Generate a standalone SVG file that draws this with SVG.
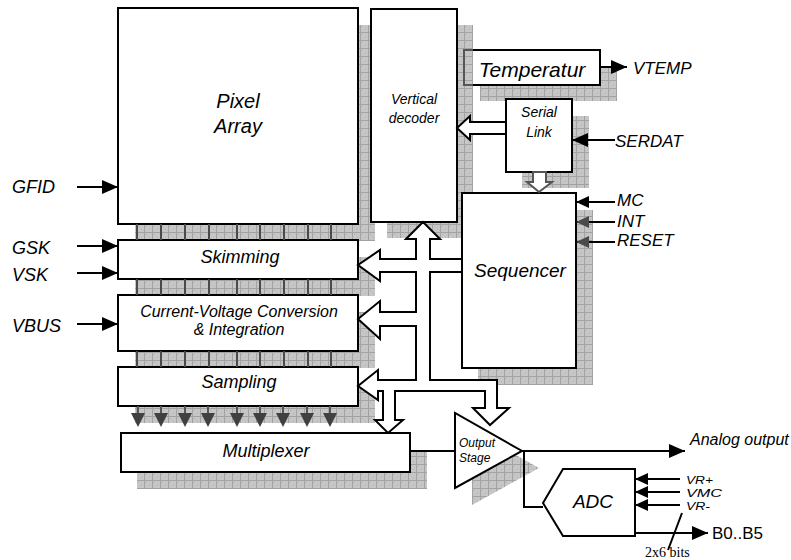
<svg xmlns="http://www.w3.org/2000/svg" width="791" height="560" viewBox="0 0 791 560">
<defs>
<pattern id="hatch" width="8" height="8" patternUnits="userSpaceOnUse">
<rect width="8" height="8" fill="#c6c6c6"/>
<rect x="2" y="2" width="1" height="1" fill="#b4b4b4"/>
<rect x="5" y="5" width="1" height="1" fill="#b4b4b4"/>
<path d="M0 0.5H8M0.5 0V8" stroke="#a2a2a2" stroke-width="1"/>
</pattern>
<marker id="ah" markerUnits="userSpaceOnUse" markerWidth="16" markerHeight="14" refX="16" refY="7" orient="auto">
<path d="M0,0 L16,7 L0,14 z" fill="#000"/>
</marker>
<marker id="ahs" markerUnits="userSpaceOnUse" markerWidth="13" markerHeight="12" refX="13" refY="6" orient="auto">
<path d="M0,0 L13,6 L0,12 z" fill="#000"/>
</marker>
<marker id="ahg" markerUnits="userSpaceOnUse" markerWidth="13" markerHeight="12" refX="13" refY="6" orient="auto">
<path d="M0,0 L13,6 L0,12 z" fill="#4a4a4a"/>
</marker>
</defs>
<style>
.box{fill:#fff;stroke:#000;stroke-width:2}
.sh{fill:url(#hatch)}
.t{font-family:"Liberation Sans",Arial,sans-serif;font-style:italic;fill:#000}
.c{text-anchor:middle}
.ln{stroke:#000;stroke-width:2;fill:none}
.col{stroke:#4a4a4a;stroke-width:2}
.tri{fill:#404040}
</style>
<rect width="791" height="560" fill="#fff"/>

<g id="temperatur">
<rect class="sh" x="480" y="67" width="137" height="34"/>
<rect class="box" x="464" y="50" width="136" height="35"/>
<text class="t c" x="532" y="77" font-size="21">Temperatur</text>
</g>

<g id="pixel-array">
<rect class="sh" x="135" y="25" width="240" height="216"/>
<rect class="box" x="118" y="8" width="240" height="216"/>
<text class="t c" x="238" y="108" font-size="20">Pixel</text>
<text class="t c" x="238" y="133" font-size="20">Array</text>
</g>

<g id="vertical-decoder">
<rect class="sh" x="387" y="25" width="86" height="213"/>
<path d="M473,50 H464 V85 H473" fill="none" stroke="#555" stroke-width="2"/>
<rect class="box" x="371" y="9" width="86" height="213"/>
<text class="t c" x="414" y="104" font-size="14">Vertical</text>
<text class="t c" x="414" y="123" font-size="14">decoder</text>
</g>

<g id="serial-link">
<rect class="sh" x="522" y="116" width="67" height="72"/>
<rect class="box" x="506" y="99" width="66" height="73"/>
<text class="t c" x="539" y="117" font-size="14">Serial</text>
<text class="t c" x="539" y="137" font-size="14">Link</text>
</g>

<g id="sequencer">
<rect class="sh" x="478" y="210" width="115" height="175"/>
<rect class="box" x="462" y="193" width="114" height="175"/>
<text class="t c" x="520" y="277" font-size="19">Sequencer</text>
</g>

<g id="skimming">
<rect class="sh" x="135" y="257" width="240" height="39"/>
<rect class="box" x="118" y="240" width="240" height="39"/>
<text class="t c" x="240" y="263" font-size="18">Skimming</text>
</g>

<g id="cv-conversion">
<rect class="sh" x="135" y="312" width="240" height="56"/>
<rect class="box" x="118" y="295" width="240" height="56"/>
<text class="t c" x="239" y="317" font-size="16">Current-Voltage Conversion</text>
<text class="t c" x="239" y="335" font-size="16">&amp; Integration</text>
</g>

<g id="sampling">
<rect class="sh" x="135" y="384" width="240" height="39"/>
<rect class="box" x="118" y="367" width="240" height="39"/>
<text class="t c" x="239" y="388" font-size="18">Sampling</text>
</g>

<g id="multiplexer">
<rect class="sh" x="137" y="450" width="290" height="39"/>
<rect class="box" x="121" y="433" width="289" height="39"/>
<text class="t c" x="266" y="457" font-size="18">Multiplexer</text>
</g>

<g id="output-stage">
<polygon class="sh" points="472,430 472,505 539,468"/>
<polygon class="box" points="455,413 455,488 522,451"/>
<text class="t" x="459" y="447" font-size="12">Output</text>
<text class="t" x="459" y="462" font-size="12">Stage</text>
</g>

<g id="adc">
<polygon class="box" points="543,503 563,469 635,469 635,536 563,536"/>
<text class="t c" x="593" y="508" font-size="19">ADC</text>
</g>

<g id="column-lines">
<path class="col" d="M137,224V240M161,224V240M185,224V240M209,224V240M237,224V240M260,224V240M284,224V240M308,224V240M331,224V240"/>
<path class="col" d="M137,279V295M161,279V295M185,279V295M209,279V295M237,279V295M260,279V295M284,279V295M308,279V295M331,279V295"/>
<path class="col" d="M137,351V367M161,351V367M185,351V367M209,351V367M237,351V367M260,351V367M284,351V367M308,351V367M331,351V367"/>
</g>

<g id="connectors">
<path class="box" d="M423,222 L440,239 L430,239 L430,259 L462,259 L462,272 L430,272 L430,380 L497,380 L497,408 L509,408 L490,425 L473,408 L485,408 L485,391 L395,391 L395,420 L403,420 L388,433 L375,420 L383,420 L383,391 L378,391 L378,400 L358,386 L378,370 L378,380 L416,380 L416,326 L380,326 L380,339 L358,319 L380,301 L380,312 L416,312 L416,272 L380,272 L380,281 L358,265 L380,250 L380,259 L416,259 L416,239 L406,239 Z"/>
<path class="box" d="M457,128 L470,116 L470,122 L506,122 L506,134 L470,134 L470,140 Z"/>
<path d="M539,192 L527,182 L533,182 L533,172 L546,172 L546,182 L552,182 Z" fill="#fff" stroke="#555" stroke-width="2"/>
<g>
<path d="M138,406V413M161,406V413M185,406V413M208,406V413M237,406V413M260,406V413M283,406V413M307,406V413M330,406V413" stroke="#555" stroke-width="2"/>
<polygon class="tri" points="131,413 145,413 138,427"/>
<polygon class="tri" points="154,413 168,413 161,427"/>
<polygon class="tri" points="178,413 192,413 185,427"/>
<polygon class="tri" points="201,413 215,413 208,427"/>
<polygon class="tri" points="230,413 244,413 237,427"/>
<polygon class="tri" points="253,413 267,413 260,427"/>
<polygon class="tri" points="276,413 290,413 283,427"/>
<polygon class="tri" points="300,413 314,413 307,427"/>
<polygon class="tri" points="323,413 337,413 330,427"/>
</g>
<line class="ln" x1="77" y1="187" x2="118" y2="187" marker-end="url(#ah)"/>
<line class="ln" x1="77" y1="246" x2="118" y2="246" marker-end="url(#ah)"/>
<line class="ln" x1="77" y1="273" x2="118" y2="273" marker-end="url(#ah)"/>
<line class="ln" x1="77" y1="324" x2="118" y2="324" marker-end="url(#ah)"/>
<line class="ln" x1="600" y1="67" x2="627" y2="67" marker-end="url(#ah)"/>
<line class="ln" x1="615" y1="140" x2="572" y2="140" marker-end="url(#ah)"/>
<line class="ln" x1="615" y1="202" x2="576" y2="202" marker-end="url(#ahs)"/>
<line class="ln" x1="615" y1="222" x2="576" y2="222" marker-end="url(#ahg)"/>
<line class="ln" x1="615" y1="242" x2="576" y2="242" marker-end="url(#ahg)"/>
<line class="ln" x1="410" y1="451" x2="455" y2="451"/>
<line class="ln" x1="522" y1="451" x2="685" y2="451" marker-end="url(#ah)"/>
<path class="ln" d="M524,451 V507 H543"/>
<line class="ln" x1="680" y1="479" x2="635" y2="479" marker-end="url(#ahs)"/>
<line class="ln" x1="680" y1="492" x2="635" y2="492" marker-end="url(#ahs)"/>
<line class="ln" x1="680" y1="505" x2="635" y2="505" marker-end="url(#ahs)"/>
<line class="ln" x1="635" y1="533" x2="708" y2="533" marker-end="url(#ah)"/>
<line class="ln" x1="668" y1="550" x2="682" y2="513"/>
</g>

<g id="labels">
<text class="t" x="12" y="193" font-size="18">GFID</text>
<text class="t" x="12" y="254" font-size="18">GSK</text>
<text class="t" x="12" y="281" font-size="18">VSK</text>
<text class="t" x="12" y="332" font-size="18">VBUS</text>
<text class="t" x="633" y="74" font-size="17">VTEMP</text>
<text class="t" x="615" y="147" font-size="17">SERDAT</text>
<text class="t" x="617" y="206" font-size="17">MC</text>
<text class="t" x="617" y="227" font-size="17">INT</text>
<text class="t" x="617" y="246" font-size="17">RESET</text>
<text class="t" x="690" y="445" font-size="16">Analog output</text>
<text class="t" x="686" y="484" font-size="11" textLength="27" lengthAdjust="spacingAndGlyphs">VR+</text>
<text class="t" x="686" y="497" font-size="11" textLength="36" lengthAdjust="spacingAndGlyphs">VMC</text>
<text class="t" x="686" y="510" font-size="11" textLength="24" lengthAdjust="spacingAndGlyphs">VR-</text>
<text x="712" y="539" font-size="17" font-family="'Liberation Sans',Arial,sans-serif">B0..B5</text>
<text x="645" y="557" font-size="14" font-family="'Liberation Serif','Times New Roman',serif">2x6 bits</text>
</g>
</svg>
